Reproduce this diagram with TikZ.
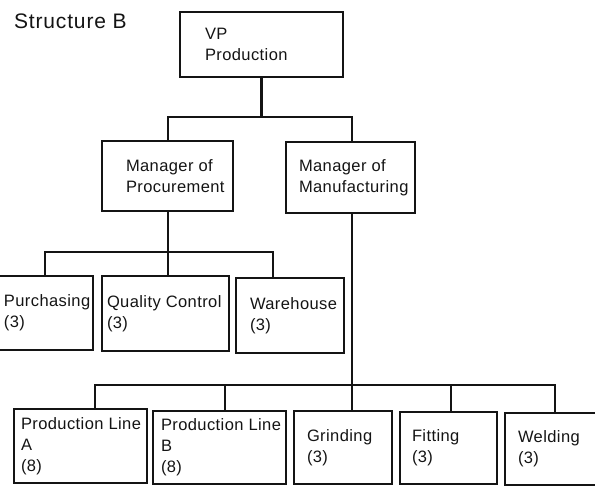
\documentclass[tikz,border=0pt]{standalone}
\usepackage{fontspec}
\newfontfamily\boxfont{Liberation Sans}[LetterSpace=2.5]
\newfontfamily\titlefont{Liberation Sans}[LetterSpace=4]
\definecolor{ink}{HTML}{141414}
\begin{document}
\begin{tikzpicture}[x=1pt,y=-1pt, line width=2.2pt, line join=miter, draw=ink,
  box/.style={draw=ink, inner sep=0pt},
  lbl/.style={anchor=west, inner sep=0pt, align=left, text=ink,
    font=\boxfont\fontsize{16.5}{21}\selectfont},
]
\useasboundingbox (0,0) rectangle (595,486);

\node[anchor=west, inner sep=0pt, text=ink, font=\titlefont\fontsize{21}{24}\selectfont] (title) at (13,21) {Structure B};

% boxes
\node[box, minimum width=163pt, minimum height=65pt] (vp) at (261.5,44.5) {};
\node[lbl] (vpt) at ([xshift=25pt]vp.west) {VP\\Production};

\node[box, minimum width=131pt, minimum height=70pt] (mp) at (167.5,176) {};
\node[lbl] (mpt) at ([xshift=24pt]mp.west) {Manager of\\Procurement};

\node[box, minimum width=129pt, minimum height=71pt] (mm) at (350.5,177.5) {};
\node[lbl] (mmt) at ([xshift=13pt]mm.west) {Manager of\\Manufacturing};

\node[box, minimum width=96pt, minimum height=74pt] (pu) at (45,313) {};
\node[lbl] (put) at ([xshift=7pt]pu.west) {Purchasing\\(3)};

\node[box, minimum width=127pt, minimum height=75pt] (qc) at (165.5,313.5) {};
\node[lbl] (qct) at ([xshift=5pt]qc.west) {Quality Control\\(3)};

\node[box, minimum width=108pt, minimum height=75pt] (wh) at (290,315.5) {};
\node[lbl] (wht) at ([xshift=14pt]wh.west) {Warehouse\\(3)};

\node[box, minimum width=133pt, minimum height=74pt] (pla) at (80.5,446) {};
\node[lbl] (plat) at ([xshift=7pt]pla.west) {Production Line\\A\\(8)};

\node[box, minimum width=133pt, minimum height=73pt] (plb) at (219.5,447.5) {};
\node[lbl] (plbt) at ([xshift=8pt]plb.west) {Production Line\\B\\(8)};

\node[box, minimum width=98pt, minimum height=73pt] (gr) at (343,447.5) {};
\node[lbl] (grt) at ([xshift=13pt]gr.west) {Grinding\\(3)};

\node[box, minimum width=97pt, minimum height=72pt] (fi) at (448.5,448) {};
\node[lbl] (fit) at ([xshift=12pt]fi.west) {Fitting\\(3)};

\node[box, minimum width=95pt, minimum height=72pt] (we) at (552.5,449) {};
\node[lbl] (wet) at ([xshift=13pt]we.west) {Welding\\(3)};

% bar coordinates
\coordinate (b1L) at (168,117);
\coordinate (b1R) at (352,117);
\coordinate (b2L) at (45,252);
\coordinate (b2R) at (273,252);
\coordinate (b3L) at (95,385);
\coordinate (b3R) at (555,385);
\coordinate (dB) at (225,385);
\coordinate (dF) at (451,385);

% connectors
\draw (vp.south) -- (vp.south |- b1L);
\draw (mp.north -| b1L) -- (b1L) -- (b1R) -- (mm.north -| b1R);
\draw (mp.south -| b1L) -- (qc.north -| b1L);
\draw (pu.north) -- (b2L) -- (b2R) -- (wh.north -| b2R);
\draw (mm.south -| b1R) -- (gr.north -| b1R);
\draw (pla.north -| b3L) -- (b3L) -- (b3R) -- (we.north -| b3R);
\draw (dB) -- (plb.north -| dB);
\draw (dF) -- (fi.north -| dF);
\end{tikzpicture}
\end{document}
